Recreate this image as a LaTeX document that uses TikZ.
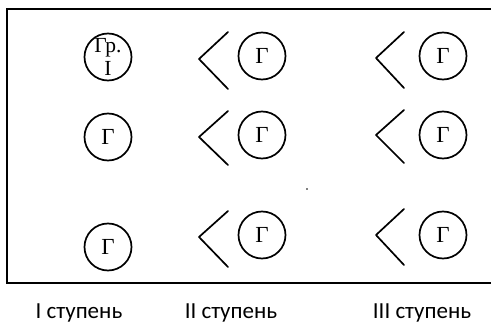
\documentclass[tikz,border=0pt]{standalone}
\usepackage{fontspec}
\setmainfont{Liberation Serif}
\newfontfamily\labelfont{Carlito}
\begin{document}
\begin{tikzpicture}[x=1pt,y=-1pt,
  gen/.style={draw,circle,line width=1.7pt,minimum size=47pt,inner sep=0pt,
    font=\fontsize{23}{24}\selectfont},
  chev/.style={line width=1.7pt,line join=round,line cap=round},
  frame/.style={line width=1.8pt},
  stage/.style={font=\labelfont\fontsize{23}{24}\selectfont,inner sep=0pt}]
\useasboundingbox (0,0) rectangle (491,324);
% frame (right side beyond the picture)
\draw[frame] (494,9) -- (7,9) -- (7,283) -- (494,283);
% generators
\node[gen,align=center,font=\fontsize{21.5}{23}\selectfont] (c11) at (108,57) {Гр.\\I};
\node[gen] (c12) at (262,56) {Г};
\node[gen] (c13) at (443,56) {Г};
\node[gen] (c21) at (108,137) {Г};
\node[gen] (c22) at (262,135) {Г};
\node[gen] (c23) at (443,135) {Г};
\node[gen] (c31) at (108,247) {Г};
\node[gen] (c32) at (262,235) {Г};
\node[gen] (c33) at (443,235) {Г};
% chevrons
\draw[chev] (228,32) -- (199,59) -- (228,89);
\draw[chev] (228,111) -- (199,137) -- (228,165);
\draw[chev] (228,211) -- (199,237) -- (228,267);
\draw[chev] (404,32) -- (376,58) -- (404,88);
\draw[chev] (404,110) -- (376,135) -- (404,163);
\draw[chev] (404,209) -- (376,235) -- (404,265);
% speck
\fill (307,189) circle (0.9);
% stage labels
\node[stage] (s1) at (79,313) {I ступень};
\node[stage] (s2) at (231,313) {II ступень};
\node[stage] (s3) at (422,313) {III ступень};
\end{tikzpicture}
\end{document}
